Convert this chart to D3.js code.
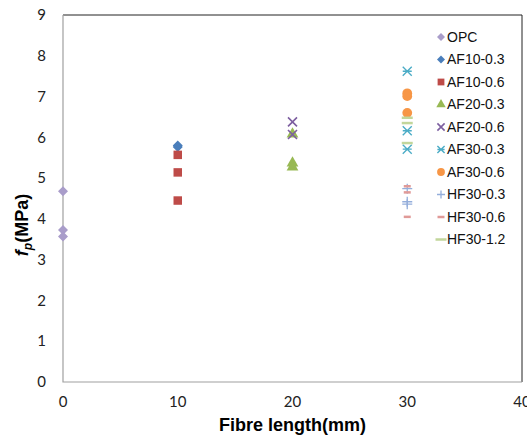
<!DOCTYPE html>
<meta charset="utf-8">
<script src="https://d3js.org/d3.v7.min.js"></script>
<style>
  body { margin: 0; background: #fff; }
</style>
<div id="my_dataviz"></div>
<script>

// series names, x positions (fibre length, mm) and f_p values (MPa)
var seriesNames = ["OPC", "AF10-0.3", "AF10-0.6", "AF20-0.3", "AF20-0.6", "AF30-0.3", "AF30-0.6", "HF30-0.3", "HF30-0.6", "HF30-1.2"];
var opc    = [4.68, 3.73, 3.57];
var af10_3 = [5.80, 5.76];
var af10_6 = [5.57, 5.14, 4.45];
var af20_3 = [6.08, 5.37, 5.27];
var af20_6 = [6.38, 6.07];
var af30_3 = [7.62, 6.16, 5.71];
var af30_6 = [7.08, 7.01, 6.60];
var hf30_3 = [4.74, 4.42, 4.36];
var hf30_6 = [4.80, 4.65, 4.05];
var hf30_12 = [6.48, 6.35, 5.86];
var lengths = [0, 10, 10, 20, 20, 30, 30, 30, 30, 30];
var xTicks = [0, 10, 20, 30, 40];
var yTicks = [0, 1, 2, 3, 4, 5, 6, 7, 8, 9];

var values = [opc, af10_3, af10_6, af20_3, af20_6, af30_3, af30_6, hf30_3, hf30_6, hf30_12];
var colors = ["#a99dca", "#4a7ebb", "#be4b48", "#98b954", "#7d5fa0", "#4bacc6", "#f79646", "#94aedb", "#e09a98", "#c2d69b"];
var shapes = ["diamond", "diamond", "square", "triangle", "x", "star", "circle", "plus", "dash", "longdash"];

var W = 527, H = 435;
var margin = {left: 63, top: 15, right: 5, bottom: 53};

var svg = d3.select("#my_dataviz")
  .append("svg")
    .attr("width", W)
    .attr("height", H)

var x = d3.scaleLinear().domain([0, 40]).range([margin.left, W - margin.right])
var y = d3.scaleLinear().domain([0, 9]).range([H - margin.bottom, margin.top])

// plot frame: top and right dark, axes grey
svg.append("path")
  .attr("d", "M" + x(0) + "," + y(9) + "H" + x(40) + "V" + y(0))
  .attr("fill", "none").attr("stroke", "#222").attr("stroke-width", 1)
svg.append("path")
  .attr("d", "M" + x(0) + "," + y(9) + "V" + y(0) + "H" + x(40))
  .attr("fill", "none").attr("stroke", "#a0a0a0").attr("stroke-width", 1.2)

// tick labels
svg.append("g").selectAll("text").data(yTicks).enter().append("text")
  .attr("x", 46).attr("y", function(d){ return y(d); })
  .attr("dy", "0.35em").attr("text-anchor", "end")
  .style("font", "15px Lato, 'Open Sans', sans-serif").style("fill", "#222")
  .text(function(d){ return d; })

svg.append("g").selectAll("text").data(xTicks).enter().append("text")
  .attr("x", function(d){ return x(d); }).attr("y", y(0) + 20)
  .attr("dy", "0.35em").attr("text-anchor", "middle")
  .style("font", "15px Lato, 'Open Sans', sans-serif").style("fill", "#222")
  .text(function(d){ return d; })

// axis titles
svg.append("text")
  .attr("x", (x(0) + x(40)) / 2).attr("y", 425)
  .attr("dy", "0.35em").attr("text-anchor", "middle")
  .style("font", "bold 18px 'Liberation Sans', Arial, sans-serif")
  .text("Fibre length(mm)")

var yt = svg.append("text")
  .attr("transform", "translate(22,225) rotate(-90)")
  .attr("text-anchor", "middle")
  .attr("dy", "0.35em")
  .style("font", "bold 18px 'Liberation Sans', Arial, sans-serif")
yt.append("tspan").style("font-style", "italic").text("f")
yt.append("tspan").style("font-style", "italic").style("font-size", "12px").attr("dy", "4").text("p")
yt.append("tspan").attr("dy", "-4").text("(MPa)")

// marker drawing
function drawMarker(g, shape, color, s) {
  s = s || 1;
  if (shape === "diamond") {
    var r = 5 * s;
    g.append("path").attr("d", "M0," + -r + "L" + r + ",0L0," + r + "L" + -r + ",0Z").attr("fill", color)
  } else if (shape === "square") {
    g.append("path").attr("d", d3.symbol().type(d3.symbolSquare).size(72 * s * s)).attr("fill", color)
  } else if (shape === "triangle") {
    g.append("path").attr("d", d3.symbol().type(d3.symbolTriangle).size(60 * s * s)).attr("fill", color)
  } else if (shape === "circle") {
    g.append("path").attr("d", d3.symbol().type(d3.symbolCircle).size(75 * s * s)).attr("fill", color)
  } else if (shape === "x") {
    var r = 4.5 * s;
    g.append("path").attr("d", "M" + -r + "," + -r + "L" + r + "," + r + "M" + -r + "," + r + "L" + r + "," + -r)
      .attr("stroke", color).attr("stroke-width", 1.6)
  } else if (shape === "star") {
    var r = 4.5 * s;
    g.append("path").attr("d", "M" + -r + "," + -r + "L" + r + "," + r + "M" + -r + "," + r + "L" + r + "," + -r + "M" + -r + ",0H" + r)
      .attr("stroke", color).attr("stroke-width", 1.4)
  } else if (shape === "plus") {
    var r = 5 * s;
    g.append("path").attr("d", "M" + -r + ",0H" + r + "M0," + -r + "V" + r)
      .attr("stroke", color).attr("stroke-width", 1.3)
  } else if (shape === "dash") {
    g.append("path").attr("d", "M-3.5,0H3.5").attr("stroke", color).attr("stroke-width", 2.5)
  } else if (shape === "longdash") {
    g.append("path").attr("d", "M-5.5,0H5.5").attr("stroke", color).attr("stroke-width", 2.5)
  }
}

// points
values.forEach(function(vals, i) {
  vals.forEach(function(v) {
    var g = svg.append("g").attr("transform", "translate(" + x(lengths[i]) + "," + y(v) + ")")
    drawMarker(g, shapes[i], colors[i])
  })
})

// legend
var legend = svg.append("g")
seriesNames.forEach(function(name, i) {
  var ly = 37 + i * 22.5;
  var g = legend.append("g").attr("transform", "translate(441," + ly + ")")
  drawMarker(g, shapes[i], colors[i], 0.8)
  legend.append("text")
    .attr("x", 447).attr("y", ly).attr("dy", "0.35em")
    .style("font", "14px 'Liberation Sans', Arial, sans-serif").style("fill", "#111")
    .text(name)
})

</script>
